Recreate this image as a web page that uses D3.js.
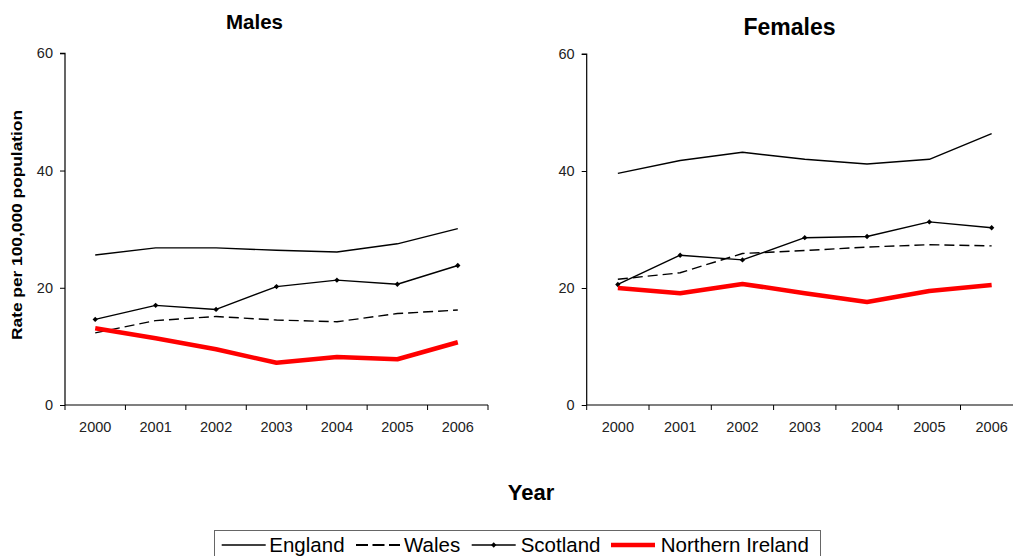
<!DOCTYPE html>
<html>
<head>
<meta charset="utf-8">
<script src="https://cdn.jsdelivr.net/npm/d3@7"></script>
<style>
  html, body { margin: 0; padding: 0; background: #fff; }
  svg { display: block; font-family: "Liberation Sans", Arial, sans-serif; }
</style>
</head>
<body>
<svg id="chart" width="1013" height="556"></svg>
<script>
// Years shown on the x axis
const years = ["2000", "2001", "2002", "2003", "2004", "2005", "2006"];
const yTicks = [0, 20, 40, 60];

// Rates per 100,000 population — males
const maleEngland  = [25.6, 26.8, 26.8, 26.4, 26.1, 27.5, 30.1];
const maleWales    = [12.3, 14.4, 15.1, 14.5, 14.2, 15.6, 16.2];
const maleScotland = [14.6, 17.0, 16.3, 20.2, 21.3, 20.6, 23.8];
const maleNI       = [13.1, 11.4, 9.5, 7.2, 8.2, 7.8, 10.7];

// Rates per 100,000 population — females
const femaleEngland  = [39.6, 41.8, 43.2, 42.0, 41.2, 42.0, 46.4];
const femaleWales    = [21.5, 22.6, 25.9, 26.4, 27.0, 27.4, 27.2];
const femaleScotland = [20.6, 25.6, 24.8, 28.6, 28.8, 31.3, 30.3];
const femaleNI       = [20.0, 19.1, 20.7, 19.1, 17.6, 19.5, 20.5];

const seriesNames = ["England", "Wales", "Scotland", "Northern Ireland"];

// Line styling per country
const styles = {
  "England":          { color: "#000", width: 1.4, dash: null, marker: false },
  "Wales":            { color: "#000", width: 1.4, dash: "10,5", marker: false },
  "Scotland":         { color: "#000", width: 1.4, dash: null, marker: true },
  "Northern Ireland": { color: "#ff0000", width: 4.5, dash: null, marker: false }
};

const svg = d3.select("#chart");
const font = "'Liberation Sans', Arial, sans-serif";

// Small square diamond marker (a square turned 45 degrees)
const diamond = d3.symbol(d3.symbolSquare, 14);

function panel(cfg) {
  const x = d3.scaleBand().domain(years).range([cfg.x0, cfg.x1]).padding(0);
  const y = d3.scaleLinear().domain([0, 60]).range([cfg.yBottom, cfg.yTop]);
  const g = svg.append("g");

  // Title
  g.append("text")
    .attr("x", cfg.titleX).attr("y", cfg.titleY)
    .attr("text-anchor", "middle")
    .attr("font-weight", "bold")
    .attr("font-size", cfg.titleSize)
    .attr("fill", "#000")
    .text(cfg.title);

  // Y axis
  const yAxis = g.append("g")
    .attr("transform", `translate(${cfg.x0},0)`)
    .call(d3.axisLeft(y).tickValues(yTicks).tickSize(5).tickPadding(7).tickFormat(d3.format("d")));
  yAxis.select(".domain").attr("stroke", "#000").attr("stroke-width", 1.2).attr("d", `M-5,${y(60)}H0V${y(0)}`);
  yAxis.selectAll(".tick line").attr("stroke", "#000");
  yAxis.selectAll("text").attr("font-size", 14.5).attr("font-family", font).attr("fill", "#222");

  // X axis: labels centred in each band, ticks on the band edges
  const xAxis = g.append("g")
    .attr("transform", `translate(0,${cfg.yBottom})`)
    .call(d3.axisBottom(x).tickSize(0).tickPadding(17));
  xAxis.select(".domain").attr("stroke", "#000").attr("stroke-width", 1.2).attr("d", `M${cfg.x0},0H${cfg.x1}`);
  xAxis.selectAll("text").attr("font-size", 14.5).attr("font-family", font).attr("fill", "#222");
  const edges = years.map(d => x(d)).concat([cfg.x1]);
  xAxis.selectAll(".edge").data(edges).enter().append("line")
    .attr("x1", d => d).attr("x2", d => d)
    .attr("y1", 0).attr("y2", 5)
    .attr("stroke", "#000");

  // Series lines
  const cx = i => x(years[i]) + x.bandwidth() / 2;
  const line = d3.line()
    .x((d, i) => cx(i))
    .y(d => y(d));

  seriesNames.forEach(name => {
    const vals = cfg.data[name];
    const s = styles[name];
    g.append("path")
      .datum(vals)
      .attr("d", line)
      .attr("fill", "none")
      .attr("stroke", s.color)
      .attr("stroke-width", s.width)
      .attr("stroke-dasharray", s.dash)
      .attr("stroke-linejoin", "round");
    if (s.marker) {
      g.selectAll(null).data(vals).enter().append("path")
        .attr("d", diamond)
        .attr("transform", (d, i) => `translate(${cx(i)},${y(d)}) rotate(45)`)
        .attr("fill", "#000");
    }
  });
}

panel({
  title: "Males", titleX: 254.5, titleY: 28.5, titleSize: 20.5,
  x0: 65, x1: 488, yTop: 53.3, yBottom: 405,
  data: { "England": maleEngland, "Wales": maleWales, "Scotland": maleScotland, "Northern Ireland": maleNI }
});

panel({
  title: "Females", titleX: 789.5, titleY: 34.5, titleSize: 23,
  x0: 586.7, x1: 1022.8, yTop: 54, yBottom: 405,
  data: { "England": femaleEngland, "Wales": femaleWales, "Scotland": femaleScotland, "Northern Ireland": femaleNI }
});

// Shared axis titles
svg.append("text")
  .attr("transform", "translate(22,225) rotate(-90)")
  .attr("text-anchor", "middle")
  .attr("font-weight", "bold")
  .attr("font-size", 14)
  .attr("textLength", 230)
  .attr("lengthAdjust", "spacingAndGlyphs")
  .attr("fill", "#000")
  .text("Rate per 100,000 population");

svg.append("text")
  .attr("x", 531).attr("y", 499.5)
  .attr("text-anchor", "middle")
  .attr("font-weight", "bold")
  .attr("font-size", 22)
  .attr("fill", "#000")
  .text("Year");

// Legend
const legend = svg.append("g");
legend.append("rect")
  .attr("x", 214.5).attr("y", 530.5)
  .attr("width", 606).attr("height", 40)
  .attr("fill", "#fff")
  .attr("stroke", "#666").attr("stroke-width", 1);

const legendItems = [
  { name: "England",          lx: 221.7, tx: 269.3 },
  { name: "Wales",            lx: 356,   tx: 404 },
  { name: "Scotland",         lx: 471.7, tx: 520.7 },
  { name: "Northern Ireland", lx: 611,   tx: 660.7 }
];
const legendY = 545;
legendItems.forEach(item => {
  const s = styles[item.name];
  legend.append("line")
    .attr("x1", item.lx).attr("x2", item.lx + 44)
    .attr("y1", legendY).attr("y2", legendY)
    .attr("stroke", s.color)
    .attr("stroke-width", item.name === "Northern Ireland" ? 4.5 : (item.name === "Wales" ? 2 : 1.4))
    .attr("stroke-dasharray", item.name === "Wales" ? "12,4.5" : null);
  if (s.marker) {
    legend.append("path")
      .attr("d", diamond)
      .attr("transform", `translate(${item.lx + 22},${legendY}) rotate(45)`)
      .attr("fill", "#000");
  }
  legend.append("text")
    .attr("x", item.tx).attr("y", 552)
    .attr("font-size", 20.5)
    .attr("fill", "#000")
    .text(item.name);
});
</script>
</body>
</html>
